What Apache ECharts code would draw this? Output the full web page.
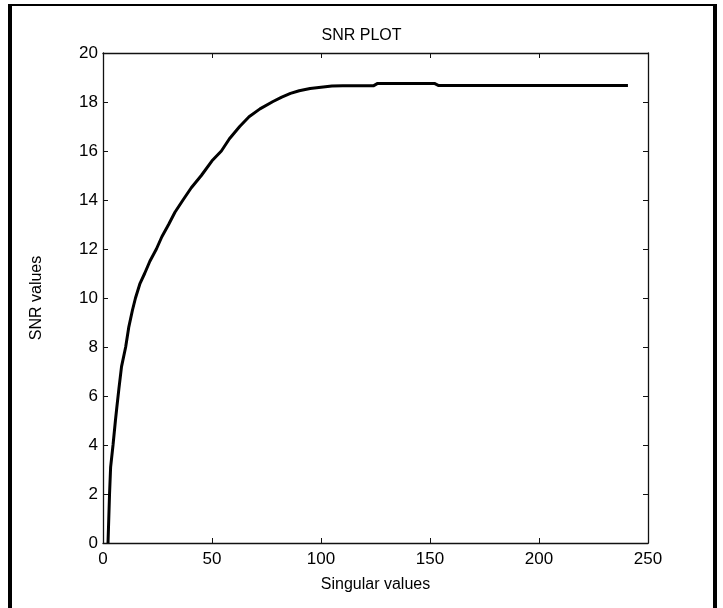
<!DOCTYPE html>
<html>
<head>
<meta charset="utf-8">
<script src="https://cdn.jsdelivr.net/npm/echarts@6/dist/echarts.min.js"></script>
<style>
html,body{margin:0;padding:0;background:#fff;}
#chart{width:723px;height:608px;}
</style>
</head>
<body>
<div id="chart"></div>
<script>
// Data
var singularValues = [2.3, 3, 3.5, 4.6, 5.7, 6.3, 7.3, 8.5, 10.4, 11.8, 13.5, 14.9, 17, 19.1, 21.5, 24.5, 27, 30.1, 33, 36.7, 40.5, 45.1, 50, 54.3, 58, 62.7, 67, 72, 78, 82, 86, 90, 95, 100, 105, 110, 124, 126, 152, 154, 180, 210, 240.8];
var snrValues      = [0,   2, 3.1, 4,   5,   5.5, 6.3, 7.2, 8,    8.8,  9.5,  10,   10.6, 11, 11.5, 12,  12.5, 13, 13.5, 14, 14.5, 15, 15.6, 16, 16.5, 17, 17.4, 17.72, 18.02, 18.2, 18.35, 18.46, 18.55, 18.6, 18.65, 18.66, 18.66, 18.76, 18.76, 18.67, 18.67, 18.67, 18.67];
var xTicks = [0, 50, 100, 150, 200, 250];
var yTicks = [0, 2, 4, 6, 8, 10, 12, 14, 16, 18, 20];
var titleText = 'SNR PLOT';
var xName = 'Singular values';
var yName = 'SNR values';

var points = singularValues.map(function (x, i) { return [x, snrValues[i]]; });
var FONT = 'Liberation Sans';

var chart = echarts.init(document.getElementById('chart'), null, {renderer: 'canvas'});
var axisBase = {
  type: 'value',
  axisLine: {show: true, onZero: false, lineStyle: {color: '#111', width: 1.3}},
  axisTick: {show: true, inside: true, length: 5, lineStyle: {color: '#111', width: 1}},
  splitLine: {show: false}
};
chart.setOption({
  animation: false,
  backgroundColor: '#fff',
  title: {
    text: titleText, left: 'center', top: 23,
    textStyle: {fontFamily: FONT, fontSize: 16, fontWeight: 'normal', color: '#000'}
  },
  grid: {left: 103, top: 53, right: 75, bottom: 65, containLabel: false},
  xAxis: [
    Object.assign({}, axisBase, {
      min: xTicks[0], max: xTicks[xTicks.length - 1], interval: 50, position: 'bottom',
      name: xName, nameLocation: 'middle', nameGap: 34,
      nameTextStyle: {fontFamily: FONT, fontSize: 16, color: '#000'},
      axisLabel: {fontFamily: FONT, fontSize: 17, color: '#000', margin: 8}
    }),
    Object.assign({}, axisBase, {
      min: xTicks[0], max: xTicks[xTicks.length - 1], interval: 50, position: 'top',
      axisLabel: {show: false}
    })
  ],
  yAxis: [
    Object.assign({}, axisBase, {
      min: yTicks[0], max: yTicks[yTicks.length - 1], interval: 2, position: 'left',
      name: yName, nameLocation: 'middle', nameGap: 58, nameRotate: 90,
      nameTextStyle: {fontFamily: FONT, fontSize: 16, color: '#000'},
      axisLabel: {fontFamily: FONT, fontSize: 17, color: '#000', margin: 5}
    }),
    Object.assign({}, axisBase, {
      min: yTicks[0], max: yTicks[yTicks.length - 1], interval: 2, position: 'right',
      axisLabel: {show: false}
    })
  ],
  series: [{
    type: 'line',
    data: points,
    xAxisIndex: 0, yAxisIndex: 0,
    showSymbol: false,
    lineStyle: {color: '#000', width: 3},
    clip: true
  }],
  graphic: [
    {type: 'rect', shape: {x: 10, y: 4, width: 707, height: 2}, style: {fill: '#000'}, silent: true},
    {type: 'rect', shape: {x: 8, y: 4, width: 4, height: 604}, style: {fill: '#000'}, silent: true},
    {type: 'rect', shape: {x: 713, y: 4, width: 4, height: 604}, style: {fill: '#000'}, silent: true}
  ]
});
</script>
</body>
</html>
